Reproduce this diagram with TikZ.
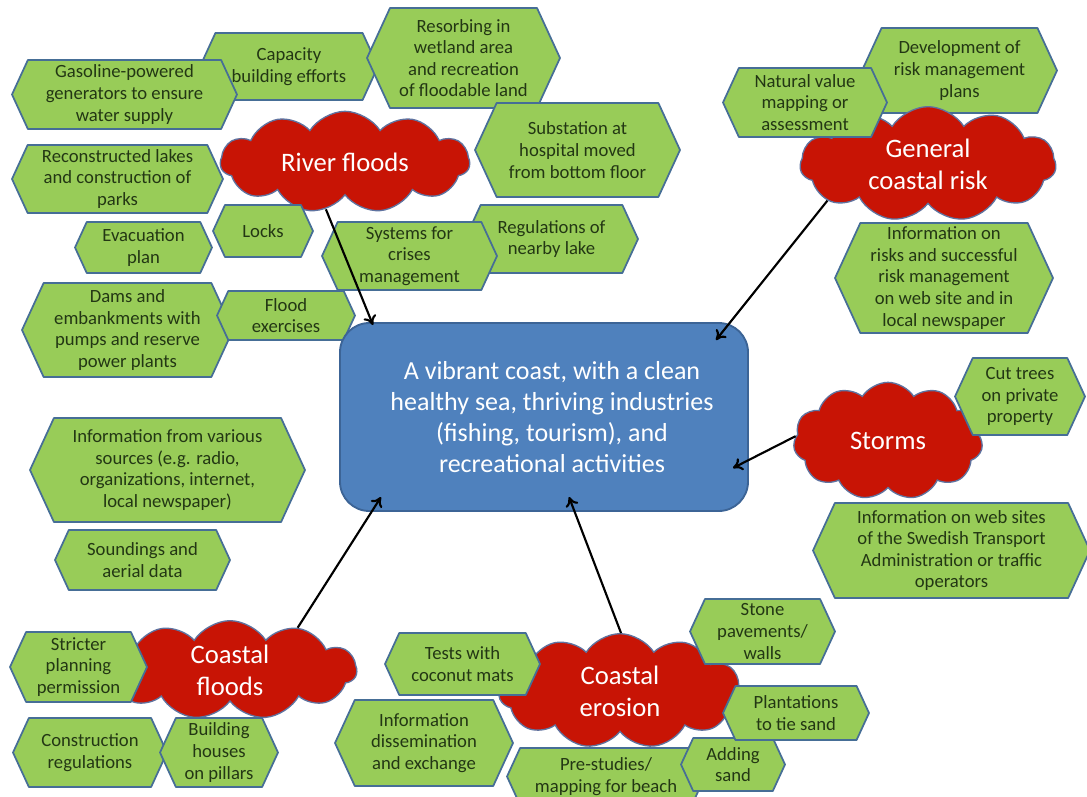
\documentclass[tikz,border=0pt]{standalone}
\usepackage{fontspec}
\setmainfont{Carlito}
\usetikzlibrary{shapes.symbols,arrows.meta}
\definecolor{hexgreen}{RGB}{152,204,88}
\definecolor{hexedge}{RGB}{70,110,150}
\definecolor{hexink}{RGB}{35,55,20}
\definecolor{cloudred}{RGB}{200,20,5}
\definecolor{cloudedge}{RGB}{95,115,160}
\definecolor{boxfill}{RGB}{79,129,189}
\definecolor{boxedge}{RGB}{60,100,150}
\tikzset{
  hexshape/.style={fill=hexgreen, draw=hexedge, line width=1.3pt, line join=round},
  hextext/.style={text=hexink, align=center, inner sep=0pt, font=\fontsize{14}{16.2}\selectfont},
  cloudn/.style={cloud, cloud puffs=11, cloud puff arc=115, fill=cloudred, draw=cloudedge,
    line width=1pt, text=white, align=center, inner sep=0pt, aspect=2.4,
    font=\fontsize{20}{24}\selectfont},
  mainbox/.style={rounded corners=22pt, fill=boxfill, draw=boxedge, line width=1.4pt,
    text=white, align=center, inner sep=0pt, font=\fontsize{19.5}{23.3}\selectfont},
  arr/.style={-{To[length=7pt,width=10pt]}, line width=1.6pt, black}
}
\newcommand{\hexa}[6]{%
  \pgfmathsetmacro{\hin}{0.23*(#5-#4)}%
  \pgfmathsetmacro{\hym}{(#4+#5)/2}%
  \pgfmathsetmacro{\hxm}{(#2+#3)/2}%
  \path[hexshape] (#2,\hym) -- (#2+\hin,#4) -- (#3-\hin,#4) -- (#3,\hym) -- (#3-\hin,#5) -- (#2+\hin,#5) -- cycle;
  \node[hextext] (#1) at (\hxm,\hym) {#6};
}
\begin{document}
\begin{tikzpicture}[x=0.75pt,y=-0.75pt]
\fill[white] (0,0) rectangle (1087,796);
\useasboundingbox (0,0) rectangle (1087,796);

% hazard clouds
\node[cloudn, minimum width=187pt, minimum height=76pt] (rf) at (345,162) {River floods};
\node[cloudn, minimum width=190pt, minimum height=74pt] (cf) at (230,670) {Coastal\\floods};
\node[cloudn, minimum width=182pt, minimum height=86pt] (ce) at (620,691) {Coastal\\erosion};
\node[cloudn, minimum width=142pt, minimum height=88pt, aspect=1.6] (st) at (888,441) {Storms};

\hexa{dev}{862}{1057}{28}{113}{Development of\\risk management\\plans}
\node[cloudn, minimum width=192pt, minimum height=86pt] (gcr) at (928,164) {General\\coastal risk};

% river flood measures
\hexa{cap}{200}{378}{33}{100}{Capacity\\building efforts}
\hexa{gas}{12}{237}{60}{129}{Gasoline-powered\\generators to ensure\\water supply}
\hexa{res}{367}{560}{8}{108}{Resorbing in\\wetland area\\and recreation\\of floodable land}
\hexa{sub}{475}{680}{103}{197}{Substation at\\hospital moved\\from bottom floor}
\hexa{reg}{465}{638}{205}{273}{Regulations of\\nearby lake}
\hexa{sys}{322}{497}{222}{290}{Systems for\\crises\\management}
\hexa{rec}{12}{223}{145}{213}{Reconstructed lakes\\and construction of\\parks}
\hexa{locks}{213}{313}{205}{257}{Locks}
\hexa{evac}{75}{212}{222}{273}{Evacuation\\plan}
\hexa{dams}{22}{233}{283}{377}{Dams and\\embankments with\\pumps and reserve\\power plants}
\hexa{flood}{217}{355}{291}{340}{Flood\\exercises}

% general
\hexa{infov}{30}{305}{418}{522}{Information from various\\sources (e.g. radio,\\organizations, internet,\\local newspaper)}
\hexa{sound}{55}{230}{530}{590}{Soundings and\\aerial data}

% coastal floods
\hexa{strict}{10}{147}{632}{702}{Stricter\\planning\\permission}
\hexa{constr}{13}{167}{718}{787}{Construction\\regulations}
\hexa{build}{160}{278}{718}{787}{Building\\houses\\on pillars}

% coastal erosion
\hexa{tests}{385}{540}{633}{695}{Tests with\\coconut mats}
\hexa{dissem}{335}{513}{700}{786}{Information\\dissemination\\and exchange}
\hexa{pre}{507}{705}{748}{805}{Pre-studies/\\mapping for beach}
\hexa{adding}{681}{785}{738}{791}{Adding\\sand}
\hexa{plant}{723}{869}{686}{740}{Plantations\\to tie sand}
\hexa{stone}{690}{835}{599}{664}{Stone\\pavements/\\walls}

% storms
\hexa{cut}{955}{1085}{358}{435}{Cut trees\\on private\\property}
\hexa{infow}{813}{1090}{503}{598}{Information on web sites\\of the Swedish Transport\\Administration or traffic\\operators}

% general coastal risk
\hexa{natv}{723}{887}{68}{137}{Natural value\\mapping or\\assessment}
\hexa{infor}{835}{1053}{223}{333}{Information on\\risks and successful\\risk management\\on web site and in\\local newspaper}

% central goal
\node[mainbox, minimum width=306pt, minimum height=141pt] (goal) at (544,417)
  {\hspace*{12pt}A vibrant coast, with a clean\\\hspace*{12pt}healthy sea, thriving industries\\\hspace*{12pt}(fishing, tourism), and\\\hspace*{12pt}recreational activities};

\coordinate (t1) at (373,325);
\coordinate (t2) at (716,340);
\coordinate (t3) at (733,468);
\coordinate (t4) at (381,497);
\coordinate (t5) at (569,497);
\draw[arr] (rf.248) -- (t1);
\draw[arr] (gcr.200) -- (t2);
\draw[arr] (st.177) -- (t3);
\draw[arr] (cf.32) -- (t4);
\draw[arr] (ce.89) -- (t5);
\end{tikzpicture}
\end{document}
